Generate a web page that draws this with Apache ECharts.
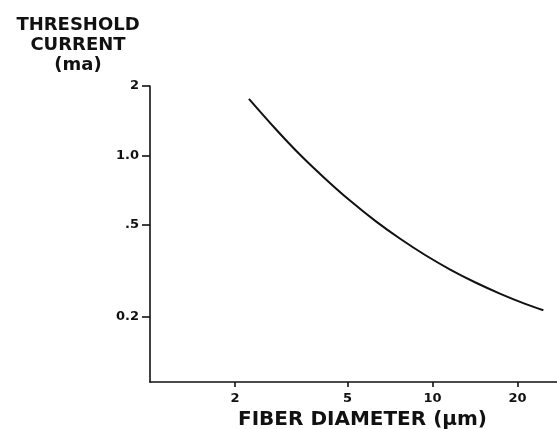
<!DOCTYPE html>
<html>
<head>
<meta charset="utf-8">
<style>
  html, body { margin: 0; padding: 0; background: #fff; }
  #chart { width: 557px; height: 429px; }
</style>
<script src="https://cdn.jsdelivr.net/npm/echarts@6/dist/echarts.min.js"></script>
</head>
<body>
<div id="chart"></div>
<script>
// Fiber diameter (µm) along the threshold curve
var diameter = [2.24, 2.79, 3.42, 4.19, 5.13, 6.29, 7.71, 9.45, 11.6, 14.2, 17.4, 21.3, 24.7];
// Threshold current (mA) at each diameter
var threshold = [1.76, 1.30, 1.00, 0.79, 0.635, 0.52, 0.435, 0.37, 0.32, 0.282, 0.252, 0.228, 0.214];

// Tick positions and the way each is printed
var xTicks = [2, 5, 10, 20];
var xTickText = ['2', '5', '10', '20'];
var yTicks = [0.2, 0.5, 1, 2];
var yTickText = ['0.2', '.5', '1.0', '2'];

function nearestLabel(v, ticks, texts) {
  var best = 0, bestD = Infinity;
  for (var i = 0; i < ticks.length; i++) {
    var d = Math.abs(Math.log(v) - Math.log(ticks[i]));
    if (d < bestD) { bestD = d; best = i; }
  }
  return texts[best];
}

var pairs = diameter.map(function (d, i) { return [d, threshold[i]]; });

var FONT = 'DejaVu Sans';
var chart = echarts.init(document.getElementById('chart'), null, { renderer: 'canvas' });
chart.setOption({
  backgroundColor: '#ffffff',
  animation: false,
  grid: { left: 150, right: 0, top: 86, bottom: 47, containLabel: false, outerBoundsMode: 'none' },
  graphic: [{
    type: 'text',
    left: 78 - 70, top: 15,
    style: {
      text: 'THRESHOLD\nCURRENT\n(ma)',
      x: 70, y: 0,
      width: 140,
      align: 'center',
      textAlign: 'center',
      lineHeight: 20,
      font: 'bold 18px "DejaVu Sans"',
      fill: '#111'
    }
  }],
  xAxis: {
    type: 'log',
    logBase: 10,
    min: 1,
    max: 27.6,
    name: 'FIBER DIAMETER (μm)',
    nameLocation: 'middle',
    nameGap: 28,
    nameTextStyle: { fontFamily: FONT, fontWeight: 'bold', fontSize: 20, color: '#111', padding: [0, 0, 0, 18] },
    axisLine: { show: true, onZero: false, lineStyle: { color: '#111', width: 1.6 } },
    axisTick: { show: true, length: 5, lineStyle: { color: '#111', width: 1.6 }, customValues: xTicks },
    axisLabel: {
      show: true, margin: 10, customValues: xTicks,
      fontFamily: FONT, fontWeight: 'bold', fontSize: 13, color: '#111',
      formatter: function (v) { return nearestLabel(v, xTicks, xTickText); }
    },
    splitLine: { show: false },
    minorTick: { show: false }
  },
  yAxis: {
    type: 'log',
    logBase: 10,
    min: 0.1046,
    max: 2,
    axisLine: { show: true, onZero: false, lineStyle: { color: '#111', width: 1.6 } },
    axisTick: { show: true, length: 8, lineStyle: { color: '#111', width: 1.6 }, customValues: yTicks },
    axisLabel: {
      show: true, margin: 11, customValues: yTicks,
      fontFamily: FONT, fontWeight: 'bold', fontSize: 13, color: '#111',
      formatter: function (v) { return nearestLabel(v, yTicks, yTickText); }
    },
    splitLine: { show: false },
    minorTick: { show: false }
  },
  series: [{
    type: 'line',
    data: pairs,
    smooth: 0.35,
    showSymbol: false,
    symbol: 'none',
    lineStyle: { color: '#111', width: 2 },
    clip: false
  }]
});
</script>
</body>
</html>
